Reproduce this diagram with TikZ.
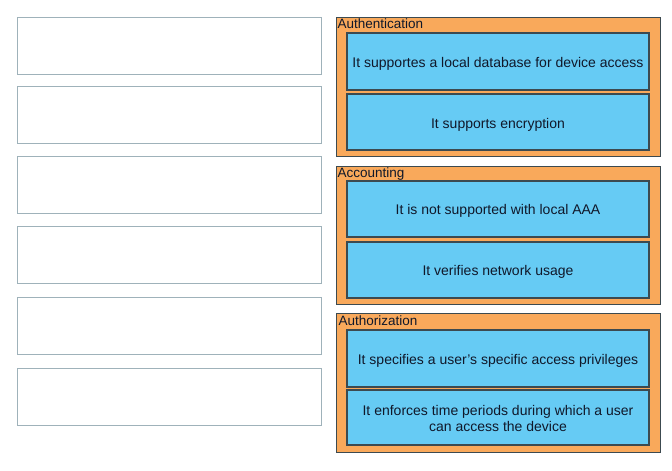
\documentclass[tikz,border=0pt]{standalone}
\usepackage{fontspec}
\setmainfont{Liberation Sans}
\begin{document}
\begin{tikzpicture}[x=1pt,y=-1pt,
  slot/.style={draw=slotgray, line width=0.8pt, fill=white},
  group/.style={draw=edgedark, line width=1pt, fill=grouporange},
  item/.style={draw=edgedark, line width=1.6pt, fill=itemblue},
  itemtext/.style={font=\fontsize{14}{16}\selectfont, text=textdark, align=center},
  grouplabel/.style={font=\fontsize{13.5}{14}\selectfont, text=textdark, anchor=north west, inner sep=0.5pt}]
\definecolor{slotgray}{HTML}{9FB2BA}
\definecolor{edgedark}{HTML}{3C4A50}
\definecolor{grouporange}{HTML}{F9A95B}
\definecolor{itemblue}{HTML}{66CBF4}
\definecolor{textdark}{HTML}{10182A}
\useasboundingbox[fill=white] (0,0) rectangle (672,471);
% left slots
\foreach \i/\t in {1/17,2/86,3/156,4/226,5/297,6/368}{
  \draw[slot] (17,\t) rectangle (321,\t+57) coordinate (slot\i);
}
% Authentication
\draw[group] (336,17) rectangle (660,156);
\node[grouplabel] (lab1) at (337,18) {Authentication};
\draw[item] (347,33) rectangle (649,90);
\node[itemtext] (a1) at (498,64) {It supportes a local database for device access};
\draw[item] (347,94) rectangle (649,150);
\node[itemtext] (a2) at (498,125) {It supports encryption};
% Accounting
\draw[group] (336,166) rectangle (660,304);
\node[grouplabel] (lab2) at (337,167) {Accounting};
\draw[item] (347,181) rectangle (649,237);
\node[itemtext] (b1) at (498,211) {It is not supported with local AAA};
\draw[item] (347,242) rectangle (649,298);
\node[itemtext] (b2) at (498,272) {It verifies network usage};
% Authorization
\draw[group] (336,313) rectangle (660,452);
\node[grouplabel] (lab3) at (338,315) {Authorization};
\draw[item] (347,330) rectangle (649,387);
\node[itemtext] (c1) at (498,361) {It specifies a user's specific access privileges};
\draw[item] (347,390) rectangle (649,445);
\node[itemtext] (c2) at (498,418.5) {It enforces time periods during which a user\\can access the device};
\end{tikzpicture}
\end{document}
